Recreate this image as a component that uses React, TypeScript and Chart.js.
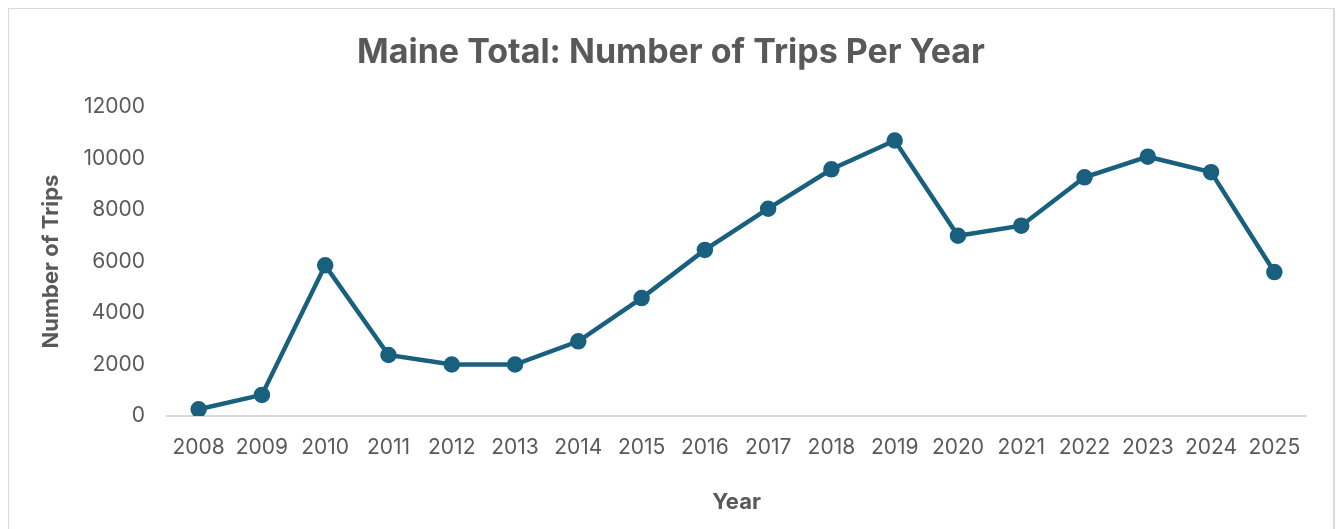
import React, { useEffect, useRef } from "react";
import { Chart, registerables } from "chart.js";

Chart.register(...registerables);

const years = ["2008","2009","2010","2011","2012","2013","2014","2015","2016","2017","2018","2019","2020","2021","2022","2023","2024","2025"];
const trips = [260, 820, 5850, 2370, 2000, 2000, 2900, 4580, 6450, 8050, 9580, 10700, 7000, 7390, 9270, 10070, 9470, 5590];
const titleText = "Maine Total: Number of Trips Per Year";
const xTitle = "Year";
const yTitle = "Number of Trips";

const FONT = "Inter, 'Open Sans', sans-serif";
const GRAY = "#595959";
const LINE = "#19607f";

export default function App() {
  const ref = useRef<HTMLCanvasElement | null>(null);
  useEffect(() => {
    if (!ref.current) return;
    const titlePlugin = {
      id: "customTitle",
      afterDraw(chart: any) {
        const ctx = chart.ctx;
        ctx.save();
        ctx.font = `bold 34px ${FONT}`;
        ctx.fillStyle = GRAY;
        ctx.textAlign = "center";
        ctx.textBaseline = "middle";
        ctx.fillText(titleText, 662, 44);
        ctx.restore();
      },
    };
    const chart = new Chart(ref.current, {
      type: "line",
      data: {
        labels: years,
        datasets: [
          {
            data: trips,
            borderColor: LINE,
            backgroundColor: LINE,
            borderWidth: 4.5,
            pointRadius: 6,
            pointHoverRadius: 6,
            pointBackgroundColor: LINE,
            pointBorderColor: LINE,
            tension: 0,
          },
        ],
      },
      options: {
        animation: false,
        responsive: false,
        devicePixelRatio: 1,
        layout: { padding: { top: 98, right: 27, left: 0, bottom: 0 } },
        plugins: { legend: { display: false }, tooltip: { enabled: false }, title: { display: false } },
        scales: {
          x: {
            offset: true,
            grid: { display: false, drawTicks: false, offset: true },
            border: { display: true, color: "#d9d9d9", width: 2 },
            ticks: { color: GRAY, font: { family: FONT, size: 21 }, padding: 19, maxRotation: 0, autoSkip: false },
            title: { display: true, text: xTitle, color: GRAY, font: { family: FONT, size: 22, weight: "bold" }, padding: { top: 0, bottom: 13 } },
            afterFit: (s: any) => { s.height = 113; },
          },
          y: {
            min: 0,
            max: 12000,
            grid: { display: false, drawTicks: false },
            border: { display: false },
            ticks: {
              stepSize: 2000,
              color: GRAY,
              font: { family: FONT, size: 21 },
              padding: 22,
              callback: (v: any) => String(v),
            },
            title: { display: true, text: yTitle, color: GRAY, font: { family: FONT, size: 22, weight: "bold" }, padding: { top: 29, bottom: 0 } },
            afterFit: (s: any) => { s.width = 158; },
          },
        },
      },
      plugins: [titlePlugin],
    });
    return () => chart.destroy();
  }, []);
  return (
    <div style={{ width: 1324, height: 530, border: "2px solid #d9d9d9", margin: "-1px 0 0 -1px" }}>
      <canvas ref={ref} width={1324} height={520} style={{ display: "block" }} />
    </div>
  );
}
